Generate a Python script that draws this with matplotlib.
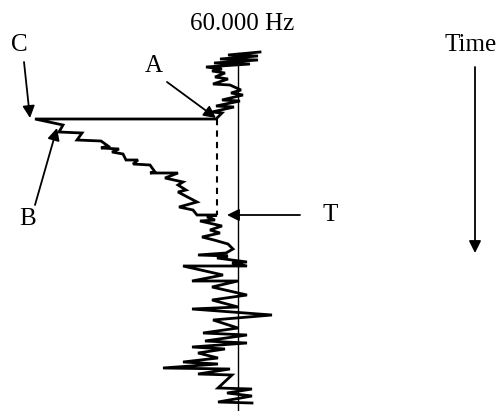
import matplotlib
matplotlib.use("Agg")
import matplotlib.pyplot as plt

# Frequency deviation from 60.000 Hz (arbitrary units) vs time (arbitrary units, increasing downward)
freq_offset = [22, -10, 20, -18, 20, -24, 12, -32, -16, -26, -13, -23, -10, -25, -8, 3, -7, 5, -16, 2,
               -22, -4, -26, -16, -22, -203,
               -175, -179, -156, -161, -137, -130, -137, -119, -126, -115, -112, -100, -105, -88, -83,
               -88, -60, -73, -55, -60, -52, -60, -41, -59, -45, -41, -21,
               -31, -23, -38, -16, -28, -18, -36, -24, -10, -5, -12, -40, -10, -21, 9, -6, 9, -55, -15,
               -46, 0, -26, 9, -26, 0, -46, 34, -25, 0, -35, 9, -33, 9, -46, -13, -40, -20, -55, -20,
               -75, -8, -40, -6, -20, 14, -11, 14, -20, 14]
time = [0, 3, 4, 7, 8, 11, 12, 15, 17, 19, 21, 25, 27, 32, 33, 38, 41, 43, 48, 49,
        54, 55, 60, 61, 67, 67,
        73, 80, 81, 88, 89, 94, 96, 97, 100, 102, 108, 108, 112, 113, 120,
        121, 121, 126, 130, 133, 138, 140, 150, 155, 158, 163, 163,
        165, 168, 169, 174, 178, 181, 185, 188, 192, 197, 201, 203, 204, 206, 210, 211, 214, 214, 223,
        229, 229, 235, 243, 248, 255, 257, 263, 268, 276, 281, 283, 289, 291, 295, 297, 301, 306, 310, 312,
        316, 317, 322, 323, 336, 337, 341, 344, 350, 351]

point_A = (-22, 67)
point_C = (-203, 67)
point_B = (-181, 76)
point_T = (-21, 163)
ref_line_time = (1, 358)
time_arrow = (15, 201)

FONT = "Liberation Serif"
FS = 18

fig = plt.figure(figsize=(4.99, 4.11), dpi=100)
ax = fig.add_axes([0, 0, 1, 1])
ax.set_xlim(-238, 261)
ax.set_ylim(359, -52)
ax.axis("off")

# 60 Hz reference line
ax.plot([0, 0], ref_line_time, color="black", lw=1.0)

# Frequency trace
ax.plot(freq_offset, time, color="black", lw=2.0, solid_joinstyle="miter")

# Dashed drop from A to T
ax.plot([point_T[0], point_T[0]], [point_A[1], point_T[1]], color="black", lw=1.5,
        linestyle=(0, (3, 2.5)))

# Labels
ax.text(4, -28, "60.000 Hz", fontsize=FS, family=FONT, ha="center", va="center")
ax.text(233, -7, "Time", fontsize=FS, family=FONT, ha="center", va="center")

ap = dict(arrowstyle="-|>", color="black", lw=1.3, mutation_scale=18, shrinkA=0, shrinkB=0)
ax.annotate("", xy=(-208, 66), xytext=(-214, 10), arrowprops=ap)
ax.text(-219, -7, "C", fontsize=FS, family=FONT, ha="center", va="center")

ax.annotate("", xy=(point_A[0], point_A[1] - 1), xytext=(-71, 30), arrowprops=ap)
ax.text(-84, 14, "A", fontsize=FS, family=FONT, ha="center", va="center")

ax.annotate("", xy=point_B, xytext=(-203, 153), arrowprops=ap)
ax.text(-210, 167, "B", fontsize=FS, family=FONT, ha="center", va="center")

ax.annotate("", xy=(-11, 163), xytext=(62, 163), arrowprops=ap)
ax.text(92, 163, "T", fontsize=FS, family=FONT, ha="center", va="center")

ax.annotate("", xy=(237, time_arrow[1]), xytext=(237, time_arrow[0]), arrowprops=ap)

fig.savefig("out.png", dpi=100)
